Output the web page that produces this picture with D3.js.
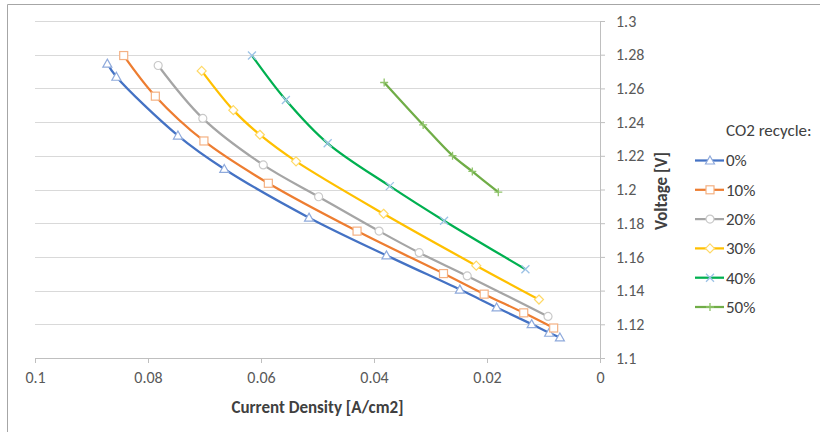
<!DOCTYPE html>
<html>
<head>
<meta charset="utf-8">
<script src="https://cdn.jsdelivr.net/npm/d3@7"></script>
<style>
  body { margin: 0; background: #fff; }
  svg text { font-family: Calibri, Carlito, "Open Sans", "Liberation Sans", sans-serif; fill: #404040; }
</style>
</head>
<body>
<div id="wrapper"></div>
<script>
// series
const seriesNames = ["0%", "10%", "20%", "30%", "40%", "50%"]

const current0 = [0.0872, 0.0856, 0.0747, 0.0665, 0.0515, 0.0378, 0.0248, 0.0183, 0.0121, 0.0090, 0.0071]
const voltage0 = [1.2747, 1.2669, 1.2320, 1.2122, 1.1833, 1.1609, 1.1406, 1.1300, 1.1201, 1.1150, 1.1122]

const current10 = [0.0843, 0.0787, 0.0701, 0.0587, 0.0430, 0.0277, 0.0205, 0.0135, 0.0082]
const voltage10 = [1.2795, 1.2554, 1.2288, 1.2037, 1.1753, 1.1501, 1.1379, 1.1268, 1.1178]

const current20 = [0.0782, 0.0703, 0.0596, 0.0498, 0.0391, 0.0320, 0.0235, 0.0092]
const voltage20 = [1.2736, 1.2422, 1.2146, 1.1957, 1.1753, 1.1625, 1.1487, 1.1247]

const current30 = [0.0705, 0.0649, 0.0602, 0.0538, 0.0383, 0.0219, 0.0108]
const voltage30 = [1.2704, 1.2471, 1.2325, 1.2167, 1.1856, 1.1548, 1.1347]

const current40 = [0.0616, 0.0556, 0.0482, 0.0372, 0.0276, 0.0132]
const voltage40 = [1.2795, 1.2531, 1.2274, 1.2020, 1.1815, 1.1527]

const current50 = [0.0382, 0.0313, 0.0261, 0.0226, 0.0180]
const voltage50 = [1.2635, 1.2383, 1.2201, 1.2107, 1.1984]

const xTicks = [0.1, 0.08, 0.06, 0.04, 0.02, 0]
const yTicks = [1.1, 1.12, 1.14, 1.16, 1.18, 1.2, 1.22, 1.24, 1.26, 1.28, 1.3]

const currents = [current0, current10, current20, current30, current40, current50]
const voltages = [voltage0, voltage10, voltage20, voltage30, voltage40, voltage50]

const styles = [
    {line: "#4472C4", marker: "triangle", stroke: "#8FAADC"},
    {line: "#ED7D31", marker: "square", stroke: "#F4B183"},
    {line: "#A5A5A5", marker: "circle", stroke: "#C9C9C9"},
    {line: "#FFC000", marker: "diamond", stroke: "#FFD966"},
    {line: "#00B050", marker: "x", stroke: "#9DC3E6"},
    {line: "#70AD47", marker: "plus", stroke: "#8FC46A"},
]

const dimensions = {
    width: 820,
    height: 432,
    margin: {top: 21, left: 35, right: 220, bottom: 74},
}
dimensions.boundedWidth = dimensions.width - dimensions.margin.left - dimensions.margin.right
dimensions.boundedHeight = dimensions.height - dimensions.margin.top - dimensions.margin.bottom

const svg = d3.select("#wrapper")
    .append("svg")
        .attr("width", dimensions.width)
        .attr("height", dimensions.height)

// chart border (only top and left visible)
svg.append("path")
    .attr("d", "M7.5,432 V4.5 H820")
    .attr("fill", "none")
    .attr("stroke", "#A6A6A6")

const bounds = svg.append("g")
    .attr("transform", `translate(${dimensions.margin.left}, ${dimensions.margin.top})`)

const xScale = d3.scaleLinear()
    .domain([0.1, 0])
    .range([0, dimensions.boundedWidth])

const yScale = d3.scaleLinear()
    .domain([1.1, 1.3])
    .range([dimensions.boundedHeight, 0])

// gridlines
bounds.append("g")
    .selectAll("line")
    .data(yTicks.slice(1))
    .join("line")
        .attr("x1", 0)
        .attr("x2", dimensions.boundedWidth)
        .attr("y1", d => Math.round(yScale(d)) + 0.5)
        .attr("y2", d => Math.round(yScale(d)) + 0.5)
        .attr("stroke", "#D9D9D9")
        .attr("stroke-width", 1)

// x axis
const xAxis = bounds.append("g")
    .attr("transform", `translate(0, ${dimensions.boundedHeight})`)
    .call(d3.axisBottom(xScale).tickValues(xTicks).tickFormat(d3.format("")).tickSize(5).tickPadding(9))
xAxis.select(".domain").attr("stroke", "#BFBFBF")
xAxis.selectAll(".tick line").attr("stroke", "#BFBFBF")
xAxis.selectAll(".tick text").attr("font-size", 16).style("fill", "#595959")

// y axis on the right
const yAxis = bounds.append("g")
    .attr("transform", `translate(${dimensions.boundedWidth}, 0)`)
    .call(d3.axisRight(yScale).tickValues(yTicks).tickFormat(d3.format("")).tickSize(5).tickPadding(11))
yAxis.select(".domain").attr("stroke", "#BFBFBF")
yAxis.selectAll(".tick line").attr("stroke", "#BFBFBF")
yAxis.selectAll(".tick text").attr("font-size", 16).style("fill", "#595959")

// axis titles
bounds.append("text")
    .attr("x", dimensions.boundedWidth / 2)
    .attr("y", dimensions.boundedHeight + 55)
    .attr("text-anchor", "middle")
    .attr("font-size", 17)
    .attr("font-weight", "bold")
    .text("Current Density [A/cm2]")

svg.append("text")
    .attr("transform", "translate(667, 191) rotate(-90)")
    .attr("text-anchor", "middle")
    .attr("font-size", 17)
    .attr("font-weight", "bold")
    .text("Voltage [V]")

// marker drawing
function drawMarker(sel, type, stroke) {
    const s = 4
    if (type === "triangle") {
        sel.append("path").attr("d", `M0,${-s - 0.5} L${s + 0.5},${s - 0.5} L${-s - 0.5},${s - 0.5} Z`)
            .attr("fill", "#fff").attr("stroke", stroke).attr("stroke-width", 1.2)
    } else if (type === "square") {
        sel.append("rect").attr("x", -s).attr("y", -s).attr("width", 2 * s).attr("height", 2 * s)
            .attr("fill", "#fff").attr("stroke", stroke).attr("stroke-width", 1.2)
    } else if (type === "circle") {
        sel.append("circle").attr("r", s)
            .attr("fill", "#fff").attr("stroke", stroke).attr("stroke-width", 1.2)
    } else if (type === "diamond") {
        sel.append("path").attr("d", `M0,${-s - 0.5} L${s + 0.5},0 L0,${s + 0.5} L${-s - 0.5},0 Z`)
            .attr("fill", "#fff").attr("stroke", stroke).attr("stroke-width", 1.2)
    } else if (type === "x") {
        sel.append("path").attr("d", `M${-s},${-s} L${s},${s} M${-s},${s} L${s},${-s}`)
            .attr("stroke", stroke).attr("stroke-width", 1.3)
    } else if (type === "plus") {
        sel.append("path").attr("d", `M${-s},0 L${s},0 M0,${-s} L0,${s}`)
            .attr("stroke", stroke).attr("stroke-width", 1.3)
    }
}

const lineGenerator = d3.line()
    .x(d => xScale(d[0]))
    .y(d => yScale(d[1]))
    .curve(d3.curveCatmullRom.alpha(0.5))

currents.forEach((xs, i) => {
    const points = xs.map((x, j) => [x, voltages[i][j]])
    const st = styles[i]
    const g = bounds.append("g").attr("class", "series")

    g.append("path")
        .datum(points)
        .attr("d", lineGenerator)
        .attr("fill", "none")
        .attr("stroke", st.line)
        .attr("stroke-width", 2.25)
        .attr("stroke-linejoin", "round")

    g.selectAll(".pt")
        .data(points)
        .join("g")
            .attr("class", "pt")
            .attr("transform", d => `translate(${xScale(d[0])}, ${yScale(d[1])})`)
            .each(function() { drawMarker(d3.select(this), st.marker, st.stroke) })
})

// legend
const legend = svg.append("g")
    .attr("transform", "translate(695, 0)")

legend.append("text")
    .attr("x", 31)
    .attr("y", 136)
    .attr("font-size", 17)
    .text("CO2 recycle:")

const rows = legend.selectAll(".row")
    .data(seriesNames)
    .join("g")
        .attr("class", "row")
        .attr("transform", (d, i) => `translate(0, ${160.5 + i * 29.3})`)

rows.append("line")
    .attr("x1", 0)
    .attr("x2", 29)
    .attr("stroke", (d, i) => styles[i].line)
    .attr("stroke-width", 2.25)

rows.append("g")
    .attr("transform", "translate(15, 0)")
    .each(function(d, i) { drawMarker(d3.select(this), styles[i].marker, styles[i].stroke) })

rows.append("text")
    .attr("x", 31)
    .attr("dy", "0.35em")
    .attr("font-size", 17)
    .text(d => d)
</script>
</body>
</html>
